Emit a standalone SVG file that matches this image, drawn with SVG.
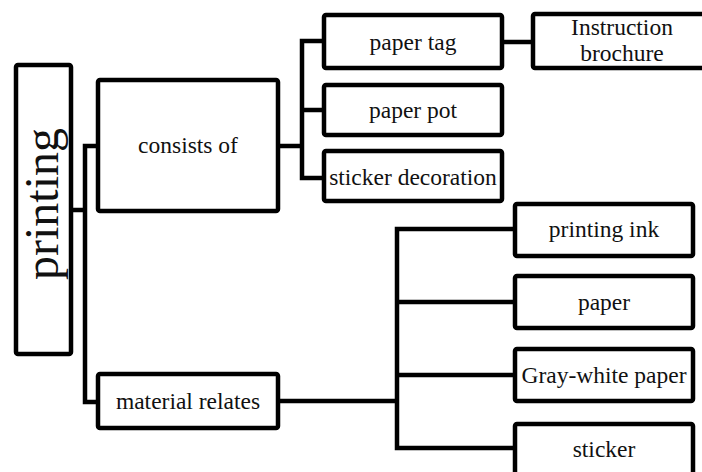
<svg xmlns="http://www.w3.org/2000/svg" width="702" height="472" viewBox="0 0 702 472">
<style>
.box{fill:#fff;stroke:#000;stroke-width:4.5;stroke-linejoin:round}
.ln{fill:none;stroke:#000;stroke-width:4.5;stroke-linejoin:round;stroke-linecap:square}
.t{font-family:'Times New Roman','Liberation Serif','DejaVu Serif','Noto Serif',Times,serif;font-size:23.5px;fill:#111;text-anchor:middle}
.big{font-size:48px}
</style>
<rect width="702" height="472" fill="#fff"/>
<g id="connectors">
<path class="ln" d="M71 210H85M85 146V402M85 146H98M85 402H98"/>
<path class="ln" d="M278 146H302M302 41V178M302 41H324M302 110H324M302 178H324"/>
<path class="ln" d="M502 42H533"/>
<path class="ln" d="M278 401H397M397 229V448M397 229H513M397 302H513M397 375H513M397 448H513"/>
</g>
<g id="printing">
<rect class="box" x="16" y="65" width="55" height="289" rx="2"/>
<text class="t big" transform="translate(58 204) rotate(-90)">printing</text>
</g>
<g id="consists">
<rect class="box" x="98" y="80" width="180" height="131" rx="2"/>
<text class="t" x="188" y="153">consists of</text>
</g>
<g id="material">
<rect class="box" x="98" y="374" width="180" height="54" rx="2"/>
<text class="t" x="188" y="409">material relates</text>
</g>
<g id="papertag">
<rect class="box" x="324" y="15" width="178" height="53" rx="2"/>
<text class="t" x="413" y="50">paper tag</text>
</g>
<g id="paperpot">
<rect class="box" x="324" y="85" width="178" height="50" rx="2"/>
<text class="t" x="413" y="118">paper pot</text>
</g>
<g id="stickerdeco">
<rect class="box" x="324" y="151" width="178" height="50" rx="2"/>
<text class="t" x="413" y="185">sticker decoration</text>
</g>
<g id="instruction">
<rect class="box" x="533" y="14" width="180" height="54" rx="2"/>
<text class="t" x="622" y="35">Instruction</text>
<text class="t" x="622" y="61">brochure</text>
</g>
<g id="ink">
<rect class="box" x="515" y="204" width="178" height="52" rx="2"/>
<text class="t" x="604" y="237">printing ink</text>
</g>
<g id="paper">
<rect class="box" x="515" y="276" width="178" height="52" rx="2"/>
<text class="t" x="604" y="310">paper</text>
</g>
<g id="graywhite">
<rect class="box" x="515" y="349" width="178" height="52" rx="2"/>
<text class="t" x="604" y="383">Gray-white paper</text>
</g>
<g id="sticker">
<rect class="box" x="515" y="424" width="178" height="60" rx="2"/>
<text class="t" x="604" y="457">sticker</text>
</g>
</svg>
